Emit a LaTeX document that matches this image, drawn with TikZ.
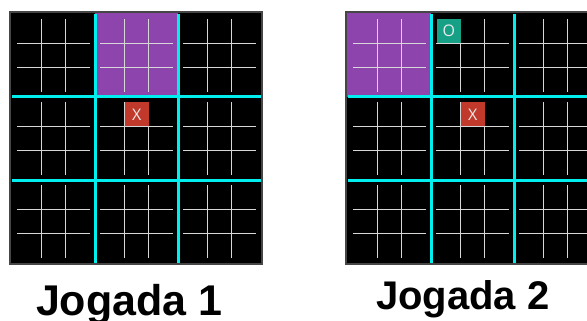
\documentclass[tikz,border=0pt]{standalone}
\usepackage{fontspec}
\setmainfont{Liberation Sans}
\newfontfamily\markfont{Open Sans}
\definecolor{cyanline}{RGB}{0,238,238}
\definecolor{purplecell}{RGB}{142,68,173}
\definecolor{redmark}{RGB}{192,57,43}
\definecolor{greenmark}{RGB}{22,160,133}
\definecolor{gridline}{RGB}{215,215,215}
\definecolor{framecol}{RGB}{70,70,70}
\tikzset{
  boardbg/.style={fill=black},
  boardframe/.style={draw=framecol, line width=1.2pt},
  sepline/.style={draw=cyanline, line width=3pt},
  subline/.style={draw=gridline, line width=0.9pt},
  markbox/.style={minimum width=24.3pt, minimum height=24.3pt, inner sep=0pt, anchor=north west,
    text=white!92!black, font=\markfont\fontsize{16}{16}\selectfont},
  jogadatext/.style={anchor=base west, inner sep=0pt, text=black}
}
\newcommand\tttgrids{%
  \foreach \i in {0,1,2}{
    \foreach \j in {0,1,2}{
      \pgfmathsetmacro\xa{7+83*\i}
      \pgfmathsetmacro\ya{7+83*\j}
      \draw[subline] (\xa+24.33,\ya) -- (\xa+24.33,\ya+73);
      \draw[subline] (\xa+48.67,\ya) -- (\xa+48.67,\ya+73);
      \draw[subline] (\xa,\ya+24.33) -- (\xa+73,\ya+24.33);
      \draw[subline] (\xa,\ya+48.67) -- (\xa+73,\ya+48.67);
    }
  }%
}
\newcommand\tttseps{%
  \draw[sepline] (85,2) -- (85,251);
  \draw[sepline] (168,2) -- (168,251);
  \draw[sepline] (2,85) -- (251,85);
  \draw[sepline] (2,168) -- (251,168);
}
\begin{document}
\begin{tikzpicture}[x=1pt,y=-1pt]
\useasboundingbox (0,0) rectangle (587,321);
\clip (0,0) rectangle (587,321);
\fill[white] (0,0) rectangle (587,321);
% Board 1
\begin{scope}[shift={(10,12)}]
  \fill[boardbg] (0,0) rectangle (252,252);
  \fill[purplecell] (85,0) rectangle (168,85);
  \tttgrids
  \tttseps
  \draw[boardframe] (0,0) rectangle (252,252);
  \node[markbox, fill=redmark] (xa) at (114.3,90) {X};
\end{scope}
% Board 2
\begin{scope}[shift={(346,12)}]
  \fill[boardbg] (0,0) rectangle (252,252);
  \fill[purplecell] (0,0) rectangle (85,85);
  \tttgrids
  \tttseps
  \draw[boardframe] (0,0) rectangle (252,252);
  \node[markbox, fill=greenmark] (ob) at (90.5,6.5) {O};
  \node[markbox, fill=redmark] (xb) at (114.3,90) {X};
\end{scope}
\node[jogadatext, font=\bfseries\fontsize{43}{43}\selectfont] (j1) at (35.8,315) {Jogada 1};
\node[jogadatext, font=\bfseries\fontsize{40}{40}\selectfont] (j2) at (375.9,309) {Jogada 2};
\end{tikzpicture}
\end{document}
